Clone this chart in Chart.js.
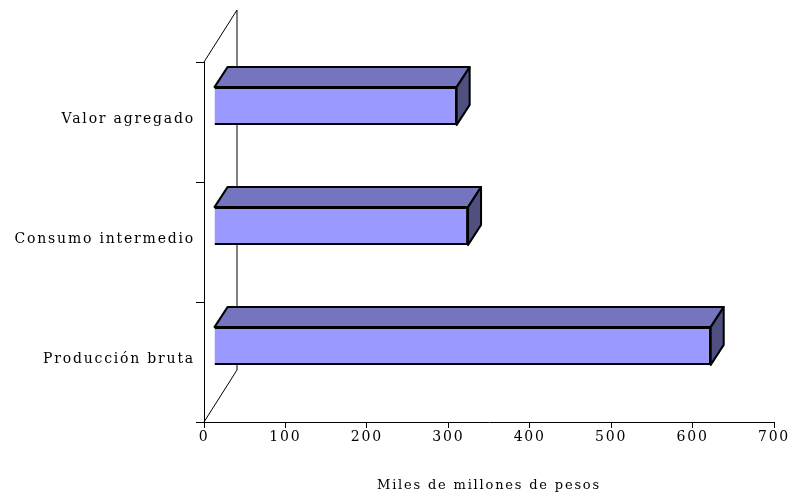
<!DOCTYPE html>
<html lang="es">
<head>
    <meta charset="UTF-8">
    <title>Miles de millones de pesos</title>
    <script src="https://cdn.jsdelivr.net/npm/chart.js@4/dist/chart.umd.min.js"></script>
    <style>
        html, body {
            margin: 0;
            padding: 0;
            background: #fff;
        }

        #wrap {
            width: 793px;
            height: 496px;
        }
    </style>
</head>
<body>
    <div id="wrap">
        <canvas id="barChart" width="793" height="496"></canvas>
    </div>
    <script>
        // data
        const categories = ['Valor agregado', 'Consumo intermedio', 'Producción bruta'];
        const values = [298, 312, 610];
        const axisTitle = 'Miles de millones de pesos';

        // fake 3D look
        const FRONT_DX = 10, FRONT_DY = -16;  // front face offset from the axis plane
        const DEPTH_DX = 13, DEPTH_DY = -20;  // box depth
        const WALL_DX = 33, WALL_DY = -52;    // back wall

        // the original face is wider than DejaVu Serif; resizing the canvas
        // resets the context, so set it again before layout and before drawing
        const SPACING = '1.8px';
        const wideText = {
            id: 'wideText',
            beforeUpdate(chart) { chart.ctx.letterSpacing = SPACING; },
            beforeDraw(chart) { chart.ctx.letterSpacing = SPACING; }
        };

        const bar3d = {
            id: 'bar3d',
            beforeDatasetsDraw(chart) {
                const ctx = chart.ctx;
                const area = chart.chartArea;
                ctx.save();

                // back wall outline
                ctx.strokeStyle = '#000';
                ctx.lineWidth = 1;
                ctx.beginPath();
                ctx.moveTo(area.left, area.top);
                ctx.lineTo(area.left + WALL_DX, area.top + WALL_DY);
                ctx.lineTo(area.left + WALL_DX, area.bottom + WALL_DY);
                ctx.lineTo(area.left, area.bottom);
                ctx.stroke();

                // top and side faces
                const meta = chart.getDatasetMeta(0);
                ctx.lineWidth = 2;
                ctx.lineJoin = 'round';
                meta.data.forEach(bar => {
                    const x0 = bar.base + FRONT_DX;
                    const x1 = bar.x + FRONT_DX;
                    const y0 = bar.y - bar.height / 2 + FRONT_DY;
                    const y1 = bar.y + bar.height / 2 + FRONT_DY;

                    ctx.fillStyle = '#7474bf';
                    ctx.beginPath();
                    ctx.moveTo(x0, y0);
                    ctx.lineTo(x0 + DEPTH_DX, y0 + DEPTH_DY);
                    ctx.lineTo(x1 + DEPTH_DX, y0 + DEPTH_DY);
                    ctx.lineTo(x1, y0);
                    ctx.closePath();
                    ctx.fill();
                    ctx.stroke();

                    ctx.fillStyle = '#4f4f80';
                    ctx.beginPath();
                    ctx.moveTo(x1, y0);
                    ctx.lineTo(x1 + DEPTH_DX, y0 + DEPTH_DY);
                    ctx.lineTo(x1 + DEPTH_DX, y1 + DEPTH_DY);
                    ctx.lineTo(x1, y1);
                    ctx.closePath();
                    ctx.fill();
                    ctx.stroke();
                });

                // front faces are drawn by Chart.js, shifted
                ctx.translate(FRONT_DX, FRONT_DY);
            },
            afterDatasetsDraw(chart) {
                chart.ctx.restore();
            }
        };

        const ctx = document.getElementById('barChart').getContext('2d');
        const chart = new Chart(ctx, {
            type: 'bar',
            data: {
                labels: categories,
                datasets: [{
                    data: values,
                    backgroundColor: '#9999ff',
                    borderColor: '#000',
                    borderWidth: 2,
                    categoryPercentage: 1,
                    barPercentage: 0.315
                }]
            },
            options: {
                indexAxis: 'y',
                responsive: false,
                animation: false,
                layout: {
                    padding: { top: 62, right: 19, bottom: 3, left: 0 }
                },
                plugins: {
                    legend: { display: false },
                    tooltip: { enabled: false }
                },
                scales: {
                    x: {
                        min: 0,
                        max: 700,
                        afterFit(scale) { scale.height = 71; },
                        ticks: {
                            stepSize: 100,
                            color: '#000',
                            padding: 1,
                            font: { family: 'DejaVu Serif', size: 14 }
                        },
                        grid: {
                            drawOnChartArea: false,
                            tickLength: 6,
                            color: '#000'
                        },
                        border: { color: '#000', width: 1 },
                        title: {
                            display: true,
                            text: axisTitle,
                            color: '#000',
                            padding: { top: 20, bottom: 0 },
                            font: { family: 'DejaVu Serif', size: 13 }
                        }
                    },
                    y: {
                        afterFit(scale) { scale.width = 204; },
                        ticks: {
                            color: '#000',
                            padding: 1,
                            labelOffset: -3,
                            font: { family: 'DejaVu Serif', size: 14 }
                        },
                        grid: {
                            drawOnChartArea: false,
                            tickLength: 8,
                            color: '#000'
                        },
                        border: { color: '#000', width: 1 }
                    }
                }
            },
            plugins: [wideText, bar3d]
        });
    </script>
</body>
</html>
